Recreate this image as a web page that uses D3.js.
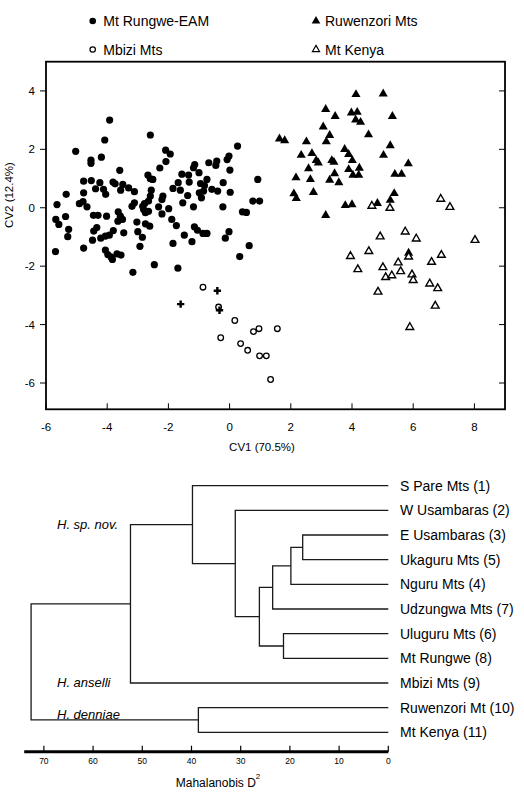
<!DOCTYPE html>
<html>
<head>
<meta charset="utf-8">
<script src="https://cdn.jsdelivr.net/npm/d3@7"></script>
<style>
	body { margin: 0; background: #fff; }
	svg { display: block; font-family: 'Liberation Sans', Arial, sans-serif; }
</style>
</head>
<body>
<svg id="chart" width="524" height="792"></svg>
<script>
'use strict';

// canonical variate scores (CV1, CV2)
var rungweEam = [
	[-4.08,2.32],[-5.03,1.93],[-4.19,1.73],[-4.53,1.63],[-4.53,1.52],[-2.09,1.97],[-1.94,1.84],[0.26,2.11],
	[-0.02,1.77],[-0.08,1.65],[-0.42,1.60],[-0.45,1.45],[-0.68,1.54],[-1.14,1.48],[-1.18,1.37],[-2.08,1.58],
	[-2.28,1.36],[-3.59,1.28],[-1.00,1.20],[-1.56,1.15],[-1.34,1.12],[-2.67,1.12],[-2.59,0.99],[-2.51,0.97],
	[-4.77,0.91],[-4.52,0.93],[-4.24,0.86],[-3.81,0.88],[-3.74,0.82],[-3.49,0.80],[-3.30,0.68],[-3.11,0.55],
	[-3.56,0.60],[-4.38,0.65],[-4.12,0.63],[-4.05,0.46],[-4.77,0.51],[-5.34,0.46],[-2.56,0.60],[-1.85,0.66],
	[-1.68,0.86],[-1.61,0.60],[-1.32,0.88],[-0.95,0.83],[-0.74,0.97],[-0.82,0.76],[-0.21,0.86],[-0.99,0.51],
	[-0.85,0.57],[-0.92,0.34],[-0.58,0.63],[-0.39,0.57],[0.02,0.53],[0.01,1.29],[-1.37,0.42],[-1.53,0.17],
	[-2.18,0.40],[-2.21,0.28],[-2.59,0.40],[-2.65,0.23],[-2.78,0.14],[-2.84,0.05],[-3.11,0.17],[-3.19,0.05],
	[-5.64,0.11],[-4.91,0.14],[-4.79,0.21],[-4.66,0.03],[-2.32,0.03],[-1.99,-0.03],[-2.81,-0.06],[-2.65,-0.12],
	[-2.75,-0.17],[-2.21,-0.21],[-1.18,0.03],[-0.22,0.03],[0.42,-0.14],[-3.64,-0.14],[-3.57,-0.29],[-4.45,-0.26],
	[-4.30,-0.26],[-4.02,-0.29],[-5.68,-0.40],[-5.58,-0.57],[-5.36,-0.30],[-3.65,-0.46],[-3.50,-0.40],[-3.03,-0.49],
	[-2.75,-0.55],[-2.61,-0.63],[-1.89,-0.40],[-1.74,-0.61],[-4.34,-0.68],[-4.44,-0.80],[-5.26,-0.74],[-1.15,-0.65],
	[-1.05,-0.77],[-0.87,-0.88],[-0.74,-0.88],[-0.02,-0.82],[-0.14,-1.04],[-3.80,-0.78],[-3.93,-0.94],[-4.06,-0.97],
	[-3.46,-0.86],[-3.00,-0.82],[-2.85,-1.01],[-4.21,-1.04],[-4.48,-1.11],[-5.29,-0.99],[-1.48,-0.94],[-1.23,-1.16],
	[-1.85,-1.22],[-2.93,-1.32],[-4.77,-1.38],[-5.69,-1.50],[-4.06,-1.45],[-3.98,-1.60],[-3.88,-1.68],[-3.83,-1.77],
	[-3.68,-1.58],[-3.55,-1.62],[-2.46,-1.95],[-3.16,-2.21],[-1.69,-2.07],[0.33,-1.67],[-3.92,3.00],[-2.59,2.49],
	[0.92,0.97],[0.76,0.23],[0.98,0.23],[0.55,-0.16],[0.64,-1.30]
];
var mbizi = [
	[-0.87,-2.72],[-0.36,-3.40],[0.17,-3.86],[0.78,-4.24],[0.96,-4.14],[1.56,-4.14],
	[-0.29,-4.45],[0.36,-4.65],[0.59,-4.88],[0.98,-5.07],[1.20,-5.07],[1.34,-5.88]
];
// the three '+' marks (not in the legend)
var unplaced = [[-0.40,-2.84],[-1.60,-3.30],[-0.33,-3.51]];
var ruwenzori = [
	[4.13,3.88],[5.02,3.90],[3.14,3.37],[3.45,3.13],[3.98,3.25],[4.17,3.27],[4.12,3.01],[4.28,2.93],
	[5.32,3.13],[3.06,2.77],[3.27,2.48],[3.16,2.26],[2.51,2.26],[1.80,2.30],[1.63,2.36],[4.54,2.50],
	[5.25,2.13],[5.03,1.80],[3.76,2.00],[3.89,1.83],[4.01,1.62],[2.34,1.80],[2.69,1.86],[2.83,1.62],
	[2.90,1.54],[3.34,1.62],[3.41,1.56],[2.58,1.34],[3.89,1.31],[4.24,1.36],[3.43,1.17],[4.03,1.12],
	[4.22,1.12],[2.17,1.03],[2.64,0.97],[3.27,0.95],[3.57,0.86],[5.40,1.15],[5.62,1.15],[5.84,1.51],
	[2.10,0.48],[2.18,0.32],[2.74,0.53],[5.38,0.49],[5.25,0.26],[4.83,0.15],[3.78,0.08],[4.00,0.11],
	[3.14,-0.26],[5.85,-1.55]
];
var kenya = [
	[4.65,0.06],[5.24,-0.01],[6.90,0.30],[7.20,0.02],[4.92,-0.99],[5.74,-0.82],[6.10,-1.06],[8.02,-1.11],
	[3.95,-1.66],[4.55,-1.49],[5.85,-1.68],[5.51,-1.88],[6.60,-1.86],[6.92,-1.62],[4.19,-2.11],[5.01,-2.04],
	[5.59,-2.18],[5.10,-2.38],[5.30,-2.32],[5.96,-2.29],[6.00,-2.48],[6.54,-2.60],[6.80,-2.76],[4.85,-2.88],
	[6.72,-3.36],[5.89,-4.09]
];

var cvTicks = { x: [-6, -4, -2, 0, 2, 4, 6, 8], y: [-6, -4, -2, 0, 2, 4] };

// dendrogram: leaves top to bottom, merges as [childA, childB, Mahalanobis D2]
// (child index < 11 is a leaf, otherwise merge number 11 + i)
var leafNames = ['S Pare Mts (1)', 'W Usambaras (2)', 'E Usambaras (3)', 'Ukaguru Mts (5)', 'Nguru Mts (4)',
	'Udzungwa Mts (7)', 'Uluguru Mts (6)', 'Mt Rungwe (8)', 'Mbizi Mts (9)', 'Ruwenzori Mt (10)', 'Mt Kenya (11)'];
var merges = [
	[2, 3, 17.4], [11, 4, 19.8], [6, 7, 21.3], [12, 5, 23.5], [14, 13, 26.2],
	[1, 15, 31.1], [0, 16, 39.8], [9, 10, 38.6], [17, 8, 52.4], [19, 18, 72.6]
];
var cladeLabels = [
	{ text: 'H. sp. nov.', node: 17, dy: 0 },
	{ text: 'H. anselli', node: 8, dy: 0 },
	{ text: 'H. denniae', node: 18, dy: -5 }
];
var distTicks = [70, 60, 50, 40, 30, 20, 10, 0];

var svg = d3.select('#chart');

/**
 * Scatter of the canonical variates
 */
var x = d3.scaleLinear().domain([-6, 9]).range([46, 505]);
var y = d3.scaleLinear().domain([-6.9, 5]).range([409.3, 61.7]);

var plot = svg.append('g');

plot.append('rect')
	.attr('x', x(-6)).attr('y', y(5))
	.attr('width', x(9) - x(-6)).attr('height', y(-6.9) - y(5))
	.attr('fill', 'none').attr('stroke', '#000').attr('stroke-width', 1.8);

// ticks: x inward at bottom, y outward on the left and inward on the right
plot.selectAll('line.xt').data(cvTicks.x).enter().append('line')
	.attr('x1', function (d) { return x(d); }).attr('x2', function (d) { return x(d); })
	.attr('y1', y(-6.9)).attr('y2', y(-6.9) - 6)
	.attr('stroke', '#000').attr('stroke-width', 1);
plot.selectAll('text.xl').data(cvTicks.x).enter().append('text')
	.attr('x', function (d) { return x(d); }).attr('y', 427)
	.attr('text-anchor', 'middle').attr('dominant-baseline', 'central')
	.attr('font-size', 11.5).text(function (d) { return d; });

plot.selectAll('line.yt').data(cvTicks.y).enter().append('line')
	.attr('x1', x(-6) - 6).attr('x2', x(-6))
	.attr('y1', function (d) { return y(d); }).attr('y2', function (d) { return y(d); })
	.attr('stroke', '#000').attr('stroke-width', 1);
plot.selectAll('line.yr').data(cvTicks.y).enter().append('line')
	.attr('x1', x(9) - 6).attr('x2', x(9))
	.attr('y1', function (d) { return y(d); }).attr('y2', function (d) { return y(d); })
	.attr('stroke', '#000').attr('stroke-width', 1);
plot.selectAll('text.yl').data(cvTicks.y).enter().append('text')
	.attr('x', 35).attr('y', function (d) { return y(d); })
	.attr('text-anchor', 'end').attr('dominant-baseline', 'central')
	.attr('font-size', 11.5).text(function (d) { return d; });

plot.append('text').attr('x', 262).attr('y', 447)
	.attr('text-anchor', 'middle').attr('dominant-baseline', 'central')
	.attr('font-size', 11.5).text('CV1 (70.5%)');
plot.append('text').attr('transform', 'translate(9,195) rotate(-90)')
	.attr('text-anchor', 'middle').attr('dominant-baseline', 'central')
	.attr('font-size', 11.5).text('CV2 (12.4%)');

var tri = d3.symbol().type(d3.symbolTriangle);
var cross = d3.symbol().type(d3.symbolCross).size(30);

function place(d) { return 'translate(' + x(d[0]) + ',' + y(d[1]) + ')'; }

plot.selectAll('circle.rung').data(rungweEam).enter().append('circle')
	.attr('cx', function (d) { return x(d[0]); }).attr('cy', function (d) { return y(d[1]); })
	.attr('r', 3.6).attr('fill', '#000');
plot.selectAll('circle.mbizi').data(mbizi).enter().append('circle')
	.attr('cx', function (d) { return x(d[0]); }).attr('cy', function (d) { return y(d[1]); })
	.attr('r', 2.8).attr('fill', '#fff').attr('stroke', '#000').attr('stroke-width', 1.3);
plot.selectAll('path.plus').data(unplaced).enter().append('path')
	.attr('d', cross).attr('transform', place).attr('fill', '#000');
plot.selectAll('path.ruw').data(ruwenzori).enter().append('path')
	.attr('d', tri.size(36)).attr('transform', place).attr('fill', '#000');
plot.selectAll('path.ken').data(kenya).enter().append('path')
	.attr('d', tri.size(26)).attr('transform', place)
	.attr('fill', '#fff').attr('stroke', '#000').attr('stroke-width', 1.4);

// legend
var legend = [
	{ name: 'Mt Rungwe-EAM', kind: 'dot', lx: 92.7, ly: 21 },
	{ name: 'Ruwenzori Mts', kind: 'tri', lx: 316, ly: 21 },
	{ name: 'Mbizi Mts', kind: 'ring', lx: 92.7, ly: 49.5 },
	{ name: 'Mt Kenya', kind: 'otri', lx: 316, ly: 49.5 }
];
var lg = svg.selectAll('g.legend').data(legend).enter().append('g')
	.attr('transform', function (d) { return 'translate(' + d.lx + ',' + d.ly + ')'; });
lg.each(function (d) {
	var g = d3.select(this);
	if(d.kind === 'dot') {
		g.append('circle').attr('r', 3.3).attr('fill', '#000');
	} else if(d.kind === 'ring') {
		g.append('circle').attr('r', 2.7).attr('fill', '#fff').attr('stroke', '#000').attr('stroke-width', 1.2);
	} else if(d.kind === 'tri') {
		g.append('path').attr('d', tri.size(32)).attr('fill', '#000');
	} else {
		g.append('path').attr('d', tri.size(22)).attr('fill', '#fff').attr('stroke', '#000').attr('stroke-width', 1.2);
	}
	g.append('text').attr('x', d.kind === 'dot' || d.kind === 'ring' ? 10.6 : 9)
		.attr('dominant-baseline', 'central').attr('font-size', 14).text(d.name);
});

/**
 * Dendrogram of Mahalanobis distances
 */
var dx = d3.scaleLinear().domain([74, 0]).range([24.2, 388.3]);
var leafY = d3.scalePoint().domain(d3.range(leafNames.length)).range([485.7, 732.3]);

var nodes = leafNames.map(function (name, i) {
	return { x: dx(0), y: leafY(i), leaf: true };
});
merges.forEach(function (m) {
	var a = nodes[m[0]], b = nodes[m[1]];
	nodes.push({ x: dx(m[2]), y: (a.y + b.y) / 2, a: a, b: b });
});

var tree = svg.append('g').attr('fill', 'none').attr('stroke', '#1a1a1a').attr('stroke-width', 1.3);
nodes.forEach(function (n) {
	if(n.leaf) {
		return;
	}
	var path = d3.path();
	path.moveTo(n.a.x, n.a.y);
	path.lineTo(n.x, n.a.y);
	path.lineTo(n.x, n.b.y);
	path.lineTo(n.b.x, n.b.y);
	tree.append('path').attr('d', path.toString());
});

svg.selectAll('text.leaf').data(leafNames).enter().append('text')
	.attr('x', 400).attr('y', function (d, i) { return leafY(i); })
	.attr('dominant-baseline', 'central').attr('font-size', 14).text(function (d) { return d; });

svg.selectAll('text.clade').data(cladeLabels).enter().append('text')
	.attr('x', 57).attr('y', function (d) { return nodes[d.node].y + d.dy; })
	.attr('dominant-baseline', 'central').attr('font-size', 13).attr('font-style', 'italic')
	.text(function (d) { return d.text; });

// distance axis
var axisY = 751.7;
svg.append('line').attr('x1', dx(74)).attr('x2', dx(0)).attr('y1', axisY).attr('y2', axisY)
	.attr('stroke', '#000').attr('stroke-width', 3);
svg.selectAll('line.dt').data(distTicks).enter().append('line')
	.attr('x1', function (d) { return dx(d); }).attr('x2', function (d) { return dx(d); })
	.attr('y1', axisY).attr('y2', axisY - 6)
	.attr('stroke', '#000').attr('stroke-width', 1.2);
svg.selectAll('text.dl').data(distTicks).enter().append('text')
	.attr('x', function (d) { return dx(d); }).attr('y', 761)
	.attr('text-anchor', 'middle').attr('dominant-baseline', 'central')
	.attr('font-size', 8.5).text(function (d) { return d; });

var title = svg.append('text').attr('x', 218).attr('y', 787)
	.attr('text-anchor', 'middle').attr('font-size', 12);
title.append('tspan').text('Mahalanobis D');
title.append('tspan').attr('dy', -8).attr('font-size', 8).text('2');
</script>
</body>
</html>
